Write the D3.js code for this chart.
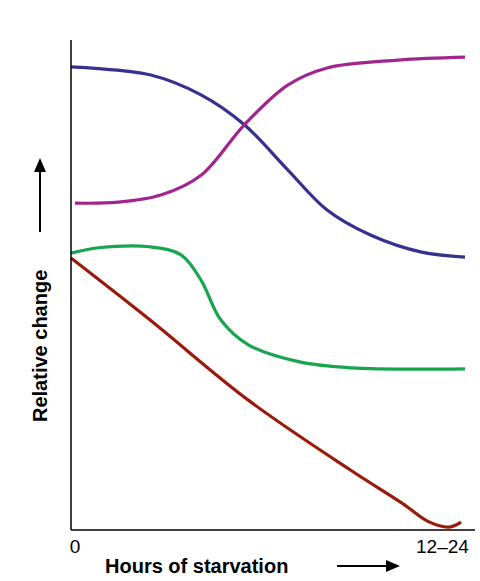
<!DOCTYPE html>
<html><head><meta charset="utf-8">
<script src="https://cdn.jsdelivr.net/npm/d3@7"></script>
<style>body{margin:0;background:#fff}</style></head>
<body><svg id="c" width="480" height="581"></svg>
<script>
const xTickLabels = ["0", "12–24"];
const axisLabelX = "Hours of starvation";
const axisLabelY = "Relative change";
const blueX = [0,20,33,44,55,65,76,89,100];
const blueY = [94.5,92.9,88.8,82.7,73.5,65.3,60.2,56.7,55.7];
const magentaX = [1,12,23,33,44,55,65,83,100];
const magentaY = [66.7,66.9,68.4,72.4,82.7,90.8,94.3,95.9,96.5];
const greenX = [0,7,20,28,33,38,45,58,71,100];
const greenY = [56.5,57.6,57.8,56.1,51.0,42.9,37.8,34.3,33.1,32.9];
const redX = [0,20,45,71,84,91,96,99];
const redY = [55.5,42.9,26.5,12.2,5.5,1.6,0.6,1.6];

const svg = d3.select("#c");
const x = d3.scaleLinear().domain([0,100]).range([71,465]);
const y = d3.scaleLinear().domain([0,100]).range([530,40]);
const line = d3.line().x(d=>x(d[0])).y(d=>y(d[1])).curve(d3.curveCatmullRom.alpha(0.5));
const series = [[blueX,blueY,"#37308c"],[magentaX,magentaY,"#a0268e"],[greenX,greenY,"#17a550"],[redX,redY,"#991b0c"]];
series.forEach(([xs,ys,c])=>{
  svg.append("path").attr("d",line(xs.map((v,i)=>[v,ys[i]]))).attr("fill","none").attr("stroke",c).attr("stroke-width",3.2);
});
svg.append("line").attr("x1",x(0)).attr("x2",x(0)).attr("y1",y(100)).attr("y2",y(0)).attr("stroke","#000").attr("stroke-width",1.5);
svg.append("line").attr("x1",x(0)).attr("x2",475).attr("y1",y(0)).attr("y2",y(0)).attr("stroke","#000").attr("stroke-width",1.5);
const f = "Liberation Sans, Arial, sans-serif";
svg.append("text").attr("x",x(0)+4).attr("y",553).attr("text-anchor","middle").attr("font-family",f).attr("font-size",19).text(xTickLabels[0]);
svg.append("text").attr("x",416).attr("y",553).attr("font-family",f).attr("font-size",19).text(xTickLabels[1]);
svg.append("text").attr("x",105).attr("y",573).attr("font-family",f).attr("font-size",20).attr("font-weight","bold").text(axisLabelX);
svg.append("line").attr("x1",337).attr("x2",388).attr("y1",566).attr("y2",566).attr("stroke","#000").attr("stroke-width",2);
svg.append("path").attr("d","M386,560 L400,566 L386,572 Z").attr("fill","#000");
svg.append("text").attr("transform","translate(47,422) rotate(-90)").attr("font-family",f).attr("font-size",20).attr("font-weight","bold").text(axisLabelY);
svg.append("line").attr("x1",40).attr("x2",40).attr("y1",232).attr("y2",170).attr("stroke","#000").attr("stroke-width",2);
svg.append("path").attr("d","M34,172 L40,158 L46,172 Z").attr("fill","#000");
</script></body></html>
